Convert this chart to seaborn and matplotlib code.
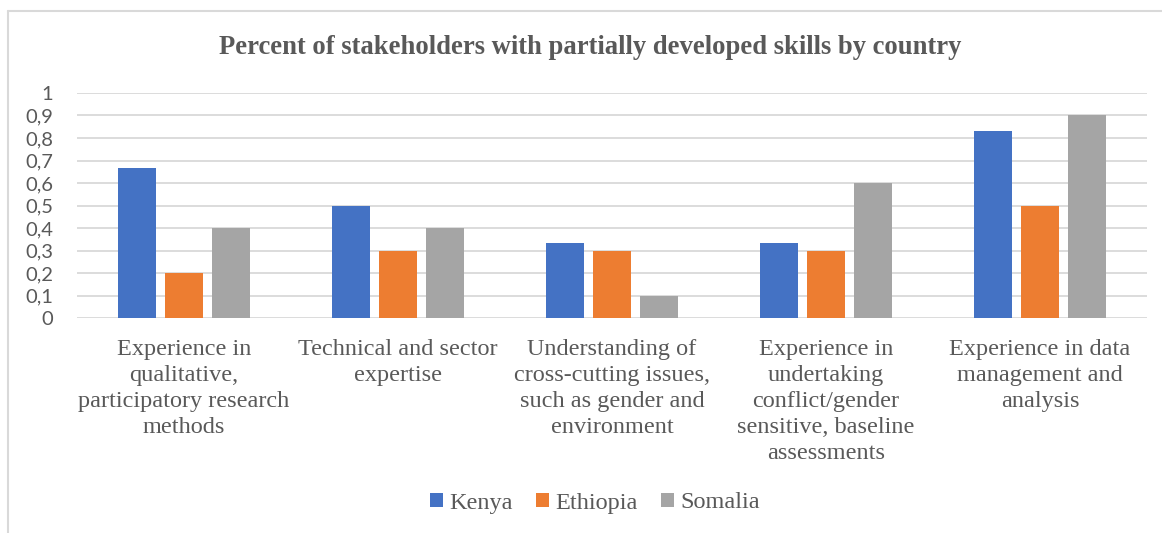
import matplotlib
matplotlib.use("Agg")
import matplotlib.pyplot as plt
from matplotlib.lines import Line2D
from matplotlib.patches import Patch
import pandas as pd
import seaborn as sns

# --- data ---
categories = [
    "Experience in\nqualitative,\nparticipatory research\nmethods",
    "Technical and sector\nexpertise",
    "Understanding of\ncross-cutting issues,\nsuch as gender and\nenvironment",
    "Experience in\nundertaking\nconflict/gender\nsensitive, baseline\nassessments",
    "Experience in data\nmanagement and\nanalysis",
]
countries = ["Kenya", "Ethiopia", "Somalia"]
kenya = [0.667, 0.5, 0.333, 0.333, 0.833]
ethiopia = [0.2, 0.3, 0.3, 0.3, 0.5]
somalia = [0.4, 0.4, 0.1, 0.6, 0.9]
y_ticks = [0, 0.1, 0.2, 0.3, 0.4, 0.5, 0.6, 0.7, 0.8, 0.9, 1.0]
y_tick_labels = ["0", "0,1", "0,2", "0,3", "0,4", "0,5", "0,6", "0,7", "0,8", "0,9", "1"]
title = "Percent of stakeholders with partially developed skills by country"

colors = ["#4472C4", "#ED7D31", "#A5A5A5"]
text_color = "#595959"
grid_color = "#D9D9D9"

df = pd.DataFrame({
    "category": categories * 3,
    "country": [c for c in countries for _ in categories],
    "value": kenya + ethiopia + somalia,
})

sns.set_theme(style="white")
serif = ["Liberation Serif", "DejaVu Serif"]
sans = ["Lato", "DejaVu Sans"]

W, H = 1162, 533
fig = plt.figure(figsize=(W / 100, H / 100), dpi=100)
ax = fig.add_axes([77 / W, 1 - 318 / H, (1147 - 77) / W, (318 - 93) / H])

sns.barplot(
    data=df, x="category", y="value", hue="country",
    order=categories, hue_order=countries, palette=colors,
    width=0.66, gap=0.21, saturation=1, ax=ax, legend=False,
    linewidth=0,
)

ax.set_xlim(-0.5, len(categories) - 0.5)
ax.set_ylim(0, 1)
ax.set_yticks(y_ticks)
ax.set_yticklabels(y_tick_labels, fontfamily=sans, fontsize=14.5, color=text_color)
ax.set_xticks(range(len(categories)))
ax.set_xticklabels(categories, fontfamily=serif, fontsize=17.5, color=text_color,
                   linespacing=1.31)
ax.tick_params(axis="y", length=0, pad=17)
ax.tick_params(axis="x", length=0, pad=15)
ax.set_xlabel("")
ax.set_ylabel("")
ax.set_axisbelow(True)
ax.yaxis.grid(True, color=grid_color, linewidth=1.3)
ax.xaxis.grid(False)
for s in ax.spines.values():
    s.set_visible(False)

fig.text(0.508, 1 - 47 / H, title, ha="center", va="center",
         fontfamily=serif, fontsize=19.2, fontweight="bold", color=text_color)

handles = [Patch(facecolor=c, edgecolor="none", label=n) for c, n in zip(colors, countries)]
leg = fig.legend(handles=handles, loc="center", bbox_to_anchor=(595 / W, 1 - 503 / H),
                 ncol=3, frameon=False, handlelength=0.55, handleheight=0.55,
                 handletextpad=0.25, columnspacing=0.95,
                 prop={"family": serif, "size": 17.5})
for t in leg.get_texts():
    t.set_color(text_color)

# chart-area border (left and top edges)
fig.add_artist(Line2D([7.5 / W, 7.5 / W], [0, 1 - 11 / H], transform=fig.transFigure,
                      color=grid_color, linewidth=1.5))
fig.add_artist(Line2D([7.5 / W, 1], [1 - 11 / H, 1 - 11 / H], transform=fig.transFigure,
                      color=grid_color, linewidth=1.5))

fig.savefig("out.png", dpi=100, facecolor="white")
